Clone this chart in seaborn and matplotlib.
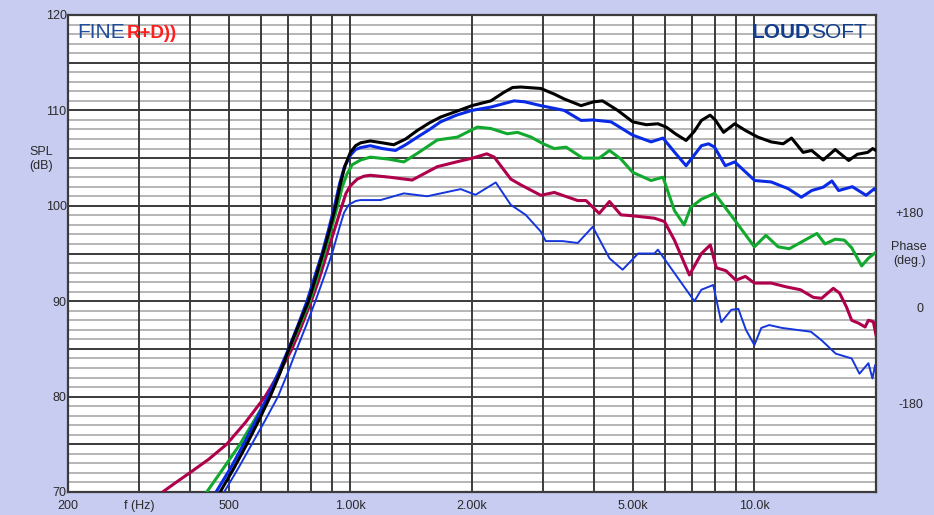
import matplotlib
matplotlib.use("Agg")
import matplotlib.pyplot as plt
from matplotlib.ticker import FixedLocator, NullFormatter
import seaborn as sns
import pandas as pd

# ---------------- data ----------------
black_f = [476, 515, 554, 595, 633, 670, 705, 745, 788, 820, 855, 890, 920, 945, 970, 1000, 1030, 1060,
           1120, 1200, 1280, 1370, 1465, 1570,
           1672, 1830, 2000, 2227, 2400, 2520, 2640, 2960, 3200, 3382, 3723, 4000, 4208, 4589, 5000,
           5400, 5770, 6050, 6400, 6775, 7100, 7395, 7770, 8000, 8390, 8940, 9500, 10200, 11000,
           11780, 12360, 13200, 13860, 14800, 15850, 17120, 17980, 19080, 19630, 20350]
black_db = [70, 72.5, 75, 77.6, 80, 82.5, 85, 87.5, 90, 92.4, 95, 97.6, 100, 102.3, 104.2, 105.6, 106.3, 106.6,
            106.8, 106.6, 106.4, 107.0, 107.9, 108.7,
            109.3, 109.9, 110.5, 111.0, 111.9, 112.4, 112.45, 112.3, 111.7, 111.2, 110.5, 110.9, 111.0,
            110.0, 108.8, 108.5, 108.6, 108.25, 107.5, 106.85, 107.8, 108.95, 109.5, 109.0, 107.7, 108.6,
            107.9, 107.2, 106.7, 106.5, 107.1, 105.6, 105.8, 104.8, 105.9, 104.75, 105.4, 105.6, 106.0, 105.6]

blue_f = [465, 505, 544, 585, 624, 665, 703, 742, 781, 815, 851, 883, 914, 940, 965, 1000, 1030, 1060,
          1120, 1200, 1293, 1370, 1465, 1570, 1672,
          1830, 2000, 2227, 2542, 2700, 2960, 3382, 3723, 3980, 4418, 5000, 5550, 5940, 6350, 6775, 7395,
          7700, 7970, 8470, 8940, 10020, 11000, 12120, 13070, 13860, 14800, 15560, 16160, 17480, 18900,
          19830, 20350]
blue_db = [70, 72.5, 75, 77.6, 80, 82.6, 85, 87.5, 90, 92.5, 95, 97.5, 100, 102.3, 104.0, 105.3, 105.9, 106.1,
           106.3, 106.0, 105.8, 106.4, 107.2, 108.0, 108.8,
           109.5, 110.0, 110.35, 111.0, 110.9, 110.5, 110.0, 108.95, 109.0, 108.8, 107.4, 106.7,
           107.1, 105.6, 104.2, 106.3, 106.5, 106.15, 104.2, 104.6, 102.65, 102.5, 101.8, 100.9, 101.6,
           101.95, 102.6, 101.6, 102.0, 101.1, 101.8, 101.1]

green_f = [441, 487, 533, 580, 627, 668, 707, 750, 793, 828, 862, 897, 930, 955, 980, 1010, 1060,
           1120, 1240, 1356, 1465, 1641, 1840, 2062,
           2227, 2445, 2593, 2800, 3000, 3197, 3420, 3757, 4130, 4378, 4673, 5000, 5550, 5940, 6340, 6700,
           6960, 7400, 7970, 8940, 10000, 10680, 11450, 12200, 13070, 14280, 14960, 15850, 16700, 17410,
           18430, 19150, 20080]
green_db = [70, 72.6, 75, 77.6, 80, 82.5, 85, 87.5, 90, 92.5, 95, 97.6, 100, 102.0, 103.3, 104.3, 104.8,
            105.1, 104.9, 104.6, 105.5, 106.9, 107.2, 108.25,
            108.1, 107.55, 107.7, 107.2, 106.5, 106.0, 106.15, 105.0, 105.0, 105.8, 104.9, 103.5,
            102.65, 103.0, 99.5, 98.0, 99.85, 100.7, 101.3, 98.5, 95.7, 96.9, 95.7, 95.5, 96.2, 97.1, 96.0,
            96.5, 96.4, 95.6, 93.7, 94.5, 95.2]

red_f = [343, 370, 400, 445, 494, 550, 615, 665, 717, 757, 800, 838, 875, 915, 953, 975, 1000, 1040, 1080,
         1120, 1250, 1422, 1641, 1830, 2006, 2176,
         2270, 2495, 2640, 2960, 3197, 3654, 3831, 4130, 4378, 4673, 5000, 5657, 5990, 6340, 6905, 7395,
         7780, 8050, 8500, 9000, 9500, 10000, 11000, 12000, 13000, 14000, 14670, 15680, 16250, 16900,
         17410, 18100, 18800, 19150, 19700, 20080]
red_db = [70, 71.0, 72, 73.4, 75, 77.3, 80, 82.4, 85, 87.4, 90, 92.4, 95, 97.6, 100, 101.3, 102.1, 102.8, 103.1,
          103.2, 103.0, 102.7, 104.1, 104.6, 105.0, 105.45,
          105.1, 102.8, 102.2, 101.1, 101.4, 100.55, 100.55, 99.2, 100.45, 99.05, 98.95, 98.7, 98.35, 96.4,
          92.75, 95.0, 95.9, 93.5, 93.2, 92.2, 92.6, 91.9, 91.9, 91.5, 91.2, 90.4, 90.3, 91.35, 90.85, 89.4,
          88.0, 87.7, 87.3, 88.0, 87.85, 86.1]

tblue_f = [487, 528, 570, 615, 662, 700, 737, 778, 819, 860, 901, 925, 944, 965, 990, 1030, 1059, 1187,
           1356, 1550, 1875, 2040, 2290, 2495,
           2716, 2960, 3044, 3352, 3654, 3980, 4378, 4718, 5155, 5657, 5770, 6340, 7104, 7390, 7910, 8280,
           8770, 9125, 9530, 10000, 10400, 10880, 11700, 12700, 13800, 14670, 15900, 17410, 18200, 19150,
           19600, 19900, 20080]
tblue_db = [70, 72.5, 75, 77.5, 80, 82.5, 85, 87.5, 90, 92.5, 95, 96.7, 98.0, 99.3, 100.1, 100.5, 100.6, 100.6,
            101.3, 101.0, 101.75, 101.15, 102.45, 100.1,
            99.05, 97.3, 96.3, 96.3, 96.1, 97.8, 94.5, 93.3, 95.0, 95.0, 95.4, 92.95, 90.0, 91.2,
            91.7, 87.8, 89.1, 89.2, 87.0, 85.4, 87.2, 87.5, 87.2, 87.0, 86.8, 85.9, 84.5, 84.0, 82.4, 83.5,
            81.9, 83.3, 82.1]

xtick_vals = [200, 300, 500, 1000, 2000, 5000, 10000]
xtick_labels = ["200", "f (Hz)", "500", "1.00k", "2.00k", "5.00k", "10.0k"]
xgrid_vals = [400, 600, 700, 800, 900, 3000, 4000, 6000, 7000, 8000, 9000]
ytick_vals = [70, 75, 80, 85, 90, 95, 100, 105, 110, 115, 120]
ytick_labels = ["70", "", "80", "", "90", "", "100", "", "110", "", "120"]
ygrid_minor = [v for v in range(70, 121)]
phase_vals = [180, 0, -180]
phase_labels = ["+180", "0", "-180"]

# ---------------- style ----------------
BG = "#c8ccf0"
sns.set_theme(style="white")
plt.rcParams["font.family"] = ["Liberation Sans", "DejaVu Sans"]

W, H = 934, 515
fig = plt.figure(figsize=(W / 100, H / 100), dpi=100, facecolor=BG)
L, R, T, B = 68, 876, 15, 492
ax = fig.add_axes([L / W, 1 - B / H, (R - L) / W, (B - T) / H])
ax.set_facecolor("white")
ax.set_xscale("log")
ax.set_xlim(200, 20000)
ax.set_ylim(70, 120)

# grid
for yv in ygrid_minor:
    ax.axhline(yv, color="#a9a9a9", lw=1.2, zorder=0.4)
ax.set_axisbelow(True)
ax.set_xticks(xtick_vals)
ax.set_xticklabels(xtick_labels)
ax.xaxis.set_minor_locator(FixedLocator(xgrid_vals))
ax.xaxis.set_minor_formatter(NullFormatter())
ax.set_yticks(ytick_vals)
ax.set_yticklabels(ytick_labels)
ax.grid(which="major", axis="both", color="#3c3c3c", lw=1.4)
ax.grid(which="minor", axis="x", color="#3c3c3c", lw=1.4)
ax.tick_params(axis="both", which="both", length=0, colors="#2a2a2a", labelsize=9)
ax.tick_params(axis="x", pad=6)
ax.tick_params(axis="y", pad=1)
for s in ax.spines.values():
    s.set_color("#3c3c3c")
    s.set_linewidth(1.6)

# curves
series = [
    (tblue_f, tblue_db, "#1536dc", 1.4),
    (red_f, red_db, "#b0004c", 2.2),
    (green_f, green_db, "#12aa2e", 2.2),
    (blue_f, blue_db, "#0a2be6", 2.2),
    (black_f, black_db, "#000000", 2.2),
]
for fx, fy, col, lw in series:
    df = pd.DataFrame({"f": fx, "db": fy})
    sns.lineplot(data=df, x="f", y="db", ax=ax, color=col, linewidth=lw,
                 sort=False, estimator=None, zorder=3)
ax.set_xlabel("")
ax.set_ylabel("")

# phase axis labels (right side)
ax2 = ax.twinx()
ax2.set_ylim(-347, 552)
ax2.set_yticks(phase_vals)
ax2.set_yticklabels(phase_labels)
ax2.tick_params(axis="y", length=0, pad=34, labelsize=9, colors="#2a2a2a")
for lab in ax2.get_yticklabels():
    lab.set_horizontalalignment("right")
ax2.grid(False)
for s in ax2.spines.values():
    s.set_visible(False)

def px(x, y):
    return x / W, 1 - y / H

fig.text(*px(41, 152), "SPL", ha="center", va="center", fontsize=9, color="#2a2a2a")
fig.text(*px(41, 166), "(dB)", ha="center", va="center", fontsize=9, color="#2a2a2a")
fig.text(*px(909, 247), "Phase", ha="center", va="center", fontsize=9, color="#2a2a2a")
fig.text(*px(910, 261), "(deg.)", ha="center", va="center", fontsize=9, color="#2a2a2a")

# logos
fig.text(*px(77, 38), "FINE", ha="left", va="baseline", fontsize=15, color="#1f4e9c")
fig.text(*px(127, 38), "R+D))", ha="left", va="baseline", fontsize=13.5,
         fontweight="bold", color="#ff1e1e")
fig.text(*px(811, 38), "LOUD", ha="right", va="baseline", fontsize=15,
         fontweight="bold", color="#123c8c")
fig.text(*px(811, 38), "SOFT", ha="left", va="baseline", fontsize=15, color="#123c8c")

fig.savefig("out.png", dpi=100, facecolor=BG)
